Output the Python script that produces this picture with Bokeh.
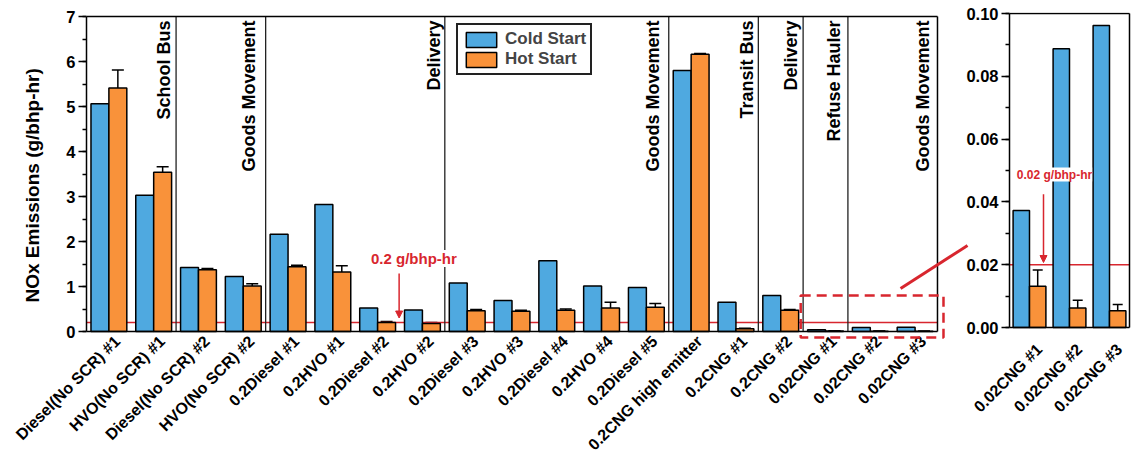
import math
from bokeh.plotting import figure
from bokeh.models import (ColumnDataSource, Whisker, TeeHead, Label, Arrow, NormalHead,
                          PolyAnnotation, Legend, LegendItem, FixedTicker, SingleIntervalTicker,
                          NumeralTickFormatter, Title)
from bokeh.layouts import row
from bokeh.embed import file_html
from bokeh.resources import INLINE

# ---------------- data ----------------
categories = ["Diesel(No SCR) #1", "HVO(No SCR) #1", "Diesel(No SCR) #2", "HVO(No SCR) #2",
              "0.2Diesel #1", "0.2HVO #1", "0.2Diesel #2", "0.2HVO #2", "0.2Diesel #3",
              "0.2HVO #3", "0.2Diesel #4", "0.2HVO #4", "0.2Diesel #5", "0.2CNG high emitter",
              "0.2CNG #1", "0.2CNG #2", "0.02CNG #1", "0.02CNG #2", "0.02CNG #3"]
cold_start = [5.06, 3.03, 1.42, 1.22, 2.16, 2.82, 0.52, 0.48, 1.08, 0.69, 1.57, 1.01, 0.98,
              5.80, 0.65, 0.80, 0.037, 0.088, 0.096]
hot_start = [5.41, 3.54, 1.37, 1.01, 1.44, 1.32, 0.20, 0.18, 0.46, 0.45, 0.47, 0.52, 0.54,
             6.16, 0.06, 0.47, 0.013, 0.006, 0.005]
hot_err = [0.40, 0.12, 0.03, 0.05, 0.03, 0.14, 0.02, 0.02, 0.03, 0.02, 0.03, 0.13, 0.08,
           0.02, 0.01, 0.02, 0.005, 0.0025, 0.002]

group_names = ["School Bus", "Goods Movement", "Delivery", "Goods Movement", "Transit Bus",
               "Delivery", "Refuse Hauler", "Goods Movement"]
group_sizes = [2, 2, 4, 5, 2, 1, 1, 2]

inset_categories = ["0.02CNG #1", "0.02CNG #2", "0.02CNG #3"]
inset_cold = [0.0373, 0.0888, 0.0962]
inset_hot = [0.0131, 0.0062, 0.0053]
inset_err = [0.0052, 0.0025, 0.0020]

main_limit = 0.2
inset_limit = 0.02
y_max = 7
inset_y_max = 0.1

# ---------------- style ----------------
BLUE = "#4FA9E0"
ORANGE = "#F9923A"
RED = "#D8262E"
FONT = "Liberation Sans"
BW = 0.4
DX = 0.2
W_TOTAL, H = 1131, 465
W_MAIN = 961
TOP, BOTTOM = 12, 126          # shared borders so that the row aligns both frames
FRAME_H = H - TOP - BOTTOM     # 327 px


def style_axes(f):
    f.grid.visible = False
    f.outline_line_color = None
    for ax in (f.xaxis[0], f.yaxis[0]):
        ax.axis_line_width = 1.5
        ax.major_label_text_font = FONT
        ax.major_label_text_font_style = "bold"
        ax.major_label_text_color = "black"
    f.yaxis.major_label_text_font_size = "16.5px"
    f.xaxis.major_label_text_font_size = "16px"
    f.xaxis.axis_line_color = None
    f.yaxis.major_tick_out = 8
    f.yaxis.major_tick_in = 0
    f.yaxis.minor_tick_out = 4
    f.yaxis.minor_tick_in = 0
    f.yaxis.major_tick_line_width = 1.5
    f.yaxis.minor_tick_line_width = 1.5
    f.yaxis.major_label_standoff = 3
    f.xaxis.major_tick_out = 0
    f.xaxis.major_tick_in = 0
    f.xaxis.minor_tick_out = 0
    f.xaxis.minor_tick_in = 0
    f.xaxis.major_label_orientation = math.pi / 4


# ---------------- main figure ----------------
n = len(categories)
xs = [i + 1 for i in range(n)]
x_lo, x_hi = 0.5, n + 0.5
src = ColumnDataSource(dict(
    xc=[x - DX for x in xs], xh=[x + DX for x in xs],
    cold=cold_start, hot=hot_start,
    up=[h + e for h, e in zip(hot_start, hot_err)],
    lo=[h - e for h, e in zip(hot_start, hot_err)],
))

PXU = 44.84          # pixels per category
PYU = 45.0           # pixels per y unit
y_top = y_max + 4 / PYU
y_bot = y_top - FRAME_H / PYU

p = figure(width=W_MAIN, height=H,
           x_range=(x_lo, x_lo + (W_MAIN - 85) / PXU), y_range=(y_bot, y_top),
           output_backend="svg", toolbar_location=None,
           min_border_left=85, min_border_right=0, min_border_top=TOP,
           min_border_bottom=BOTTOM)
style_axes(p)
p.yaxis.bounds = (0, y_max)
p.yaxis.ticker = SingleIntervalTicker(interval=1, num_minor_ticks=2)
p.xaxis.major_label_standoff = -1
tick_shift = 0.1875
p.xaxis.ticker = FixedTicker(ticks=[x + tick_shift for x in xs])
p.xaxis.major_label_overrides = {x + tick_shift: c for x, c in zip(xs, categories)}

# limit line, group separators (behind bars)
p.segment(x0=[x_lo], y0=[main_limit], x1=[x_hi], y1=[main_limit], line_color=RED,
          line_width=1.5)
bounds = []
acc = x_lo
for s in group_sizes:
    acc += s
    bounds.append(acc)
sep = bounds[:-1]
p.segment(x0=sep, y0=[0] * len(sep), x1=sep, y1=[y_max] * len(sep), line_color="#222222",
          line_width=1.3)

rc = p.vbar(x="xc", top="cold", width=BW, source=src, fill_color=BLUE,
            line_color="black", line_width=1.5)
rh = p.vbar(x="xh", top="hot", width=BW, source=src, fill_color=ORANGE,
            line_color="black", line_width=1.5)
p.add_layout(Whisker(source=src, base="xh", upper="up", lower="lo", line_width=1.5,
                     upper_head=TeeHead(size=12, line_width=1.5),
                     lower_head=TeeHead(size=12, line_width=1.5)))

# box frame (bottom axis line, top, right)
p.segment(x0=[x_lo, x_lo, x_hi], y0=[0, y_max, 0], x1=[x_hi, x_hi, x_hi], y1=[0, y_max, y_max],
          line_color="black", line_width=1.5)

# group labels
label_gap_px = [12, 17, 11, 16, 11.5, 12, 13.5, 15]
for name, b, g in zip(group_names, bounds, label_gap_px):
    p.add_layout(Label(x=b - g / PXU, y=6.91, text=name, angle=math.pi / 2,
                       text_align="right", text_baseline="middle", text_font=FONT,
                       text_font_style="bold", text_font_size="18px", text_color="black"))

# y axis title in the left panel
p.add_layout(Title(text="NOx Emissions (g/bhp-hr)", align="left", offset=(TOP + FRAME_H) - 302,
                   vertical_align="middle", standoff=40, text_font=FONT,
                   text_font_style="bold", text_font_size="19px", text_color="black"), "left")

# 0.2 g/bhp-hr annotation
p.add_layout(Label(x=7.81, y=1.62, text="0.2 g/bhp-hr", text_align="center",
                   text_baseline="middle", text_font=FONT, text_font_style="bold",
                   text_font_size="15px", text_color=RED, background_fill_color="white"))
p.add_layout(Arrow(x_start=7.48, y_start=1.29, x_end=7.48, y_end=0.3, line_color=RED,
                   line_width=1.5,
                   end=NormalHead(size=7, fill_color=RED, line_color=RED, line_width=1)))

# dashed zoom box and connector
p.add_layout(PolyAnnotation(xs=[16.446, 19.634, 19.634, 16.446], ys=[0.8, 0.8, -0.133, -0.133],
                            fill_alpha=0, line_color=RED, line_alpha=1, line_width=2.5,
                            line_dash="10 6"))
p.add_layout(Arrow(x_start=18.676, y_start=0.956, x_end=20.17, y_end=1.911, line_color=RED,
                   line_width=3, end=None))

# legend
legend = Legend(items=[LegendItem(label="Cold Start", renderers=[rc]),
                       LegendItem(label="Hot Start", renderers=[rh])],
                location=(370, 264), orientation="vertical",
                glyph_width=38, glyph_height=19, label_height=19, spacing=0, padding=4,
                label_standoff=5, margin=0, border_line_color="#222222", border_line_alpha=1,
                border_line_width=2.5, label_text_font=FONT, label_text_font_style="bold",
                label_text_font_size="17px", background_fill_color="white",
                background_fill_alpha=1)
p.add_layout(legend, "center")

# ---------------- inset figure ----------------
m = len(inset_categories)
ixs = [i + 1 for i in range(m)]
ix_lo, ix_hi = 0.5, m + 0.5
isrc = ColumnDataSource(dict(
    xc=[x - 0.205 for x in ixs], xh=[x + 0.205 for x in ixs],
    cold=inset_cold, hot=inset_hot,
    up=[h + e for h, e in zip(inset_hot, inset_err)],
    lo=[h - e for h, e in zip(inset_hot, inset_err)],
))
IPXU = 40.0
IPYU = 3140.0
iy_top = inset_y_max + 1 / IPYU
iy_bot = iy_top - FRAME_H / IPYU
W_INSET = W_TOTAL - W_MAIN
q = figure(width=W_INSET, height=H,
           x_range=(ix_lo, ix_lo + (W_INSET - 48) / IPXU), y_range=(iy_bot, iy_top),
           output_backend="svg", toolbar_location=None,
           min_border_left=48, min_border_right=0, min_border_top=TOP,
           min_border_bottom=BOTTOM)
style_axes(q)
q.yaxis.bounds = (0, inset_y_max)
q.xaxis.major_label_standoff = 7
q.yaxis.ticker = SingleIntervalTicker(interval=0.02, num_minor_ticks=2)
q.yaxis.formatter = NumeralTickFormatter(format="0.00")
itick_shift = 0.25
q.xaxis.ticker = FixedTicker(ticks=[x + itick_shift for x in ixs])
q.xaxis.major_label_overrides = {x + itick_shift: c for x, c in zip(ixs, inset_categories)}

q.segment(x0=[ix_lo], y0=[inset_limit], x1=[ix_hi], y1=[inset_limit], line_color=RED,
          line_width=1.5)
q.vbar(x="xc", top="cold", width=0.41, source=isrc, fill_color=BLUE, line_color="black",
       line_width=1.5)
q.vbar(x="xh", top="hot", width=0.41, source=isrc, fill_color=ORANGE, line_color="black",
       line_width=1.5)
q.add_layout(Whisker(source=isrc, base="xh", upper="up", lower="lo", line_width=1.5,
                     upper_head=TeeHead(size=10, line_width=1.5),
                     lower_head=TeeHead(size=10, line_width=1.5)))
q.segment(x0=[ix_lo, ix_lo, ix_hi], y0=[0, inset_y_max, 0], x1=[ix_hi, ix_hi, ix_hi],
          y1=[0, inset_y_max, inset_y_max], line_color="black", line_width=1.5)
q.add_layout(Label(x=1.625, y=0.0487, text="0.02 g/bhp-hr", text_align="center",
                   text_baseline="middle", text_font=FONT, text_font_style="bold",
                   text_font_size="12px", text_color=RED, background_fill_color="white"))
q.add_layout(Arrow(x_start=1.35, y_start=0.0424, x_end=1.35, y_end=0.0207, line_color=RED,
                   line_width=1.5,
                   end=NormalHead(size=7, fill_color=RED, line_color=RED, line_width=1)))
# connector arrow head continuing from the main plot
q.add_layout(Arrow(x_start=-2.225, y_start=0.01242, x_end=-0.55, y_end=0.02611,
                   line_color=RED, line_width=3,
                   end=NormalHead(size=12, fill_color=RED, line_color=RED, line_width=1)))

layout = row(p, q)
open("out.html", "w").write(file_html(layout, INLINE))
